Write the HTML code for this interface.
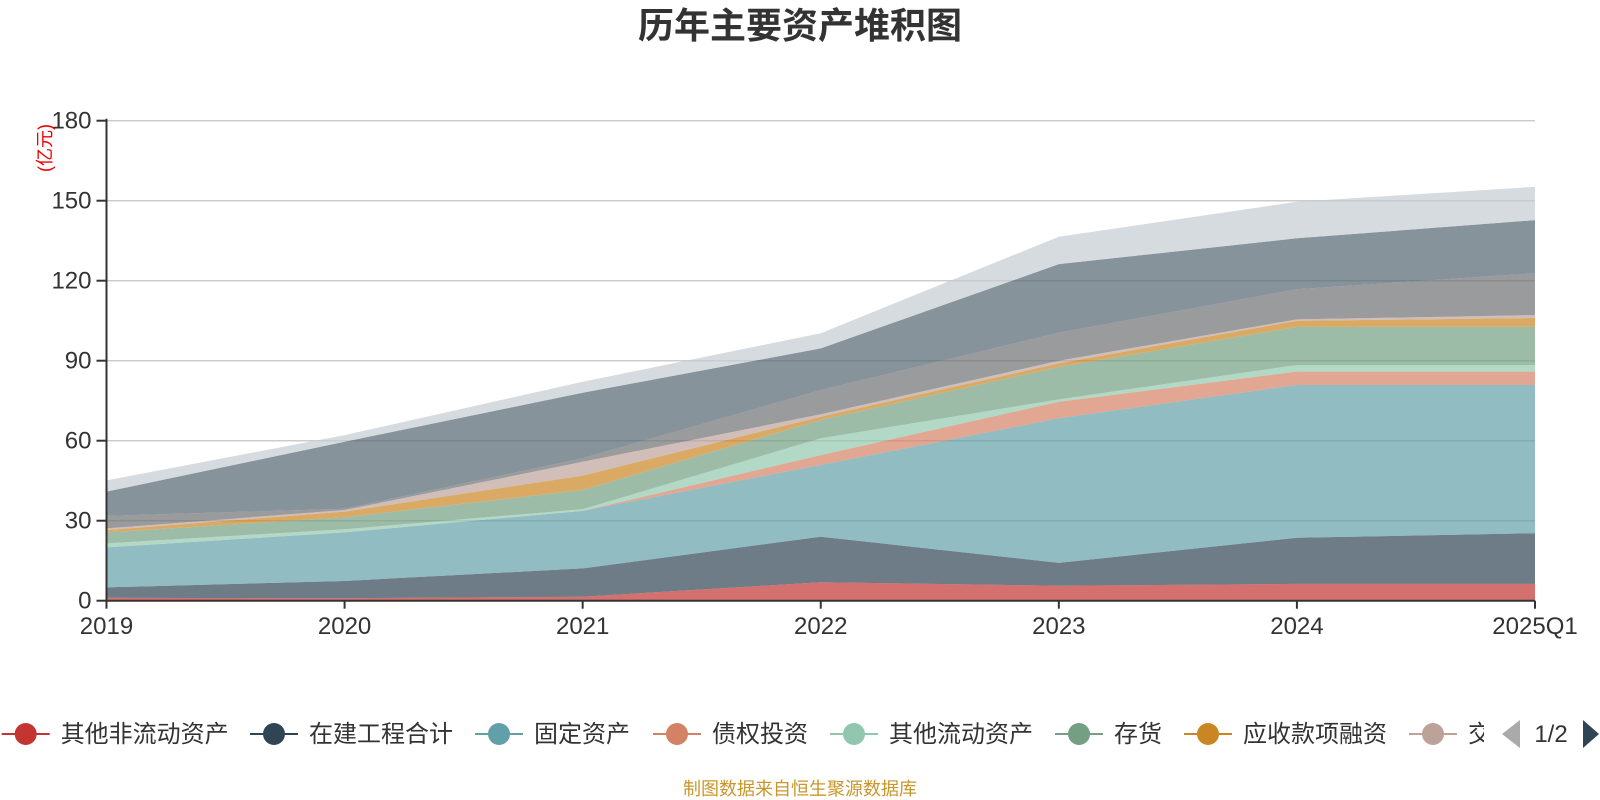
<!DOCTYPE html>
<html><head><meta charset="utf-8"><style>
body{margin:0;background:#fff;width:1600px;height:800px;overflow:hidden;font-family:"Liberation Sans","Noto Sans CJK SC",sans-serif;}
svg{position:absolute;left:0;top:0}
</style></head><body>
<svg id="c" width="1600" height="800"></svg>
<script>
const categories=["2019","2020","2021","2022","2023","2024","2025Q1"];
const seriesNames=["其他非流动资产","在建工程合计","固定资产","债权投资","其他流动资产","存货","应收款项融资","交易性金融资产","其他资产A","其他资产B","其他资产C"];
const s0=[1.1,0.9,1.5,6.9,5.6,6.3,6.3];
const s1=[3.9,6.5,10.6,17.1,8.6,17.3,19.0];
const s2=[15,18.2,21.6,26.9,54.2,57.3,55.6];
const s3=[0,0,0,3.7,6.2,5.0,5.0];
const s4=[1.5,1.2,0.6,6.3,0.9,2.5,2.5];
const s5=[4.1,4.5,7.2,6.9,12.2,14.3,14.3];
const s6=[0.9,2.1,5.4,1.2,1.3,2.3,3.3];
const s7=[0.6,0.6,5.2,0.9,1.0,0.5,1.1];
const s8=[4.7,0.5,1.3,9.1,10.5,11.3,15.7];
const s9=[9.1,25.1,24.6,15.6,25.7,19.1,19.9];
const s10=[4.2,2.5,4.1,5.7,10.3,13.7,12.5];
const yTicks=[0,30,60,90,120,150,180];
const series=[s0,s1,s2,s3,s4,s5,s6,s7,s8,s9,s10];
const colors=['#c23531','#2f4554','#61a0a8','#d48265','#91c7ae','#749f83','#ca8622','#bda29a','#6e7074','#546570','#c4ccd3'];
const X0=106.5,X1=1535,Y0=600.7,Y1=120.7;
const xs=i=>X0+(X1-X0)*i/(categories.length-1);
const ys=v=>Y0-(Y0-Y1)*v/180;
const NS='http://www.w3.org/2000/svg';
const svg=document.getElementById('c');
function mk(t,a,p){const e=document.createElementNS(NS,t);for(const k in a)e.setAttribute(k,a[k]);(p||svg).appendChild(e);return e;}
let t=mk('text',{x:800,y:38,'text-anchor':'middle','font-size':36,'font-weight':'bold',fill:'#333'});t.textContent='历年主要资产堆积图';


yTicks.forEach(v=>{
 if(v>0){const g=mk('line',{x1:X0,x2:X1,y1:ys(v),y2:ys(v),stroke:'#ccc','stroke-width':1.5});
 
 }
 mk('line',{x1:X0-10,x2:X0,y1:ys(v),y2:ys(v),stroke:'#333','stroke-width':2});
 const l=mk('text',{x:X0-15,y:ys(v)+8,'text-anchor':'end','font-size':24,fill:'#333'});l.textContent=v;
 
 
});
const u=mk('text',{transform:'translate(51,148) rotate(-90)','text-anchor':'middle','font-size':18,fill:'#e00'});u.textContent='(亿元)';


let cum=categories.map(()=>0);
series.forEach((s,k)=>{
 const lo=cum.slice();const hi=cum.map((c,i)=>c+s[i]);
 let d='';hi.forEach((v,i)=>d+=(i?'L':'M')+xs(i)+','+ys(v));
 for(let i=lo.length-1;i>=0;i--)d+='L'+xs(i)+','+ys(lo[i]);
 const p=mk('path',{d:d+'Z',fill:colors[k],'fill-opacity':0.7,stroke:'none'});
 
 
 cum=hi;
});
mk('line',{x1:X0,x2:X0,y1:Y1-2,y2:Y0,stroke:'#333','stroke-width':2});
mk('line',{x1:X0,x2:X1,y1:Y0,y2:Y0,stroke:'#333','stroke-width':2});
categories.forEach((c,i)=>{
 mk('line',{x1:xs(i),x2:xs(i),y1:Y0,y2:Y0+8,stroke:'#333','stroke-width':2});
 const l=mk('text',{x:xs(i),y:634,'text-anchor':'middle','font-size':24,fill:'#333'});l.textContent=c;
 
 
});
const lg=mk('g',{'clip-path':'url(#lc)'});


const defs=mk('defs',{});const cp=mk('clipPath',{id:'lc'},defs);mk('rect',{x:0,y:700,width:1484,height:60},cp);
const lx=[25.7,274,499,677,854,1079,1208,1433];
for(let k=0;k<8;k++){
 const g=mk('g',{},lg);
 
 
 mk('line',{x1:lx[k]-24,x2:lx[k]+24,y1:734,y2:734,stroke:colors[k],'stroke-width':2},g);
 mk('circle',{cx:lx[k],cy:734,r:11,fill:colors[k]},g);
 const tt=mk('text',{x:lx[k]+35,y:742,'font-size':24,fill:'#333'},g);tt.textContent=seriesNames[k];
}
const pa=mk('path',{d:'M1502,734 L1520,720 L1520,748Z',fill:'#aaa'});


const pt=mk('text',{x:1551,y:742,'text-anchor':'middle','font-size':24,fill:'#333'});pt.textContent='1/2';


const na=mk('path',{d:'M1599,734 L1583,720 L1583,748Z',fill:'#2f4554'});


const f=mk('text',{x:800,y:795,'text-anchor':'middle','font-size':18,fill:'#c8962a'});f.textContent='制图数据来自恒生聚源数据库';


</script>
</body></html>
